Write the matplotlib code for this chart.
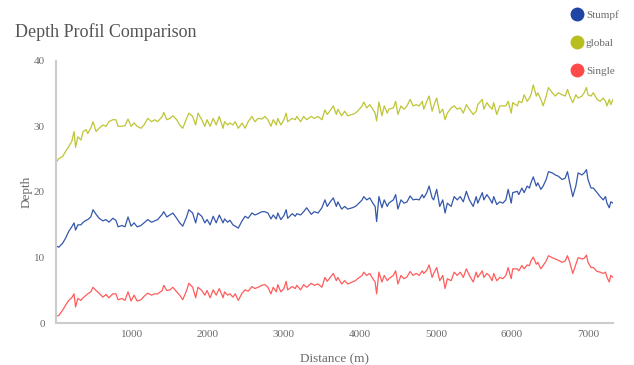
import matplotlib
matplotlib.use('Agg')
import matplotlib.pyplot as plt
from matplotlib.lines import Line2D

# Along-track distance (m) shared by the three depth profiles
distance_m = [
    0, 40, 90, 130, 170, 210, 240, 260, 290, 330, 360, 400, 420, 460, 490, 530, 570, 620, 660, 700,
    750, 790, 820, 870, 910, 950, 990, 1030, 1070, 1120, 1160, 1210, 1260, 1300, 1340, 1400, 1420,
    1460, 1500, 1540, 1590, 1630, 1670, 1720, 1750, 1800,
    1840, 1870, 1920, 1960, 1990, 2030, 2070, 2110, 2150, 2200, 2220, 2260, 2290, 2330, 2360, 2400,
    2450, 2490, 2530, 2580, 2620, 2660, 2710, 2750, 2790, 2830, 2860, 2900, 2920, 2960, 3000, 3030,
    3050, 3110, 3150, 3170, 3220, 3260, 3300, 3360, 3400, 3450, 3500, 3540, 3570, 3610,
    3650, 3690, 3710, 3760, 3800, 3840, 3900, 3940, 3970, 4030, 4050, 4090, 4130, 4170, 4200, 4220,
    4250, 4290, 4320, 4360, 4380, 4440, 4470, 4500, 4540, 4580, 4620, 4660, 4700, 4740, 4780, 4820,
    4840, 4880, 4910, 4950, 4970, 5010, 5050, 5090, 5120, 5150, 5200, 5240, 5280, 5320, 5360, 5400,
    5440, 5490,
    5530, 5550, 5610, 5630, 5670, 5700, 5740, 5760, 5800, 5840, 5880, 5920, 5950, 5990, 6010, 6070,
    6090, 6130, 6160, 6200, 6230, 6250, 6280, 6320, 6340, 6380, 6410, 6450, 6480, 6530, 6570, 6610,
    6660, 6700, 6730, 6760, 6800, 6840, 6870, 6920, 6950, 6980, 7000, 7040, 7070, 7120, 7160, 7200,
    7230, 7250, 7280, 7300, 7330,
]

depth_stumpf = [
    11.8, 11.6, 12.2, 13.0, 14.0, 14.7, 15.3, 14.2, 15.0, 15.0, 15.4, 15.7, 15.8, 16.2, 17.3, 16.6,
    16.0, 15.6, 15.8, 15.4, 16.0, 15.7, 14.7, 14.9, 14.7, 16.2, 14.8, 15.3, 14.7, 14.9, 15.3, 15.8,
    15.4, 15.6, 15.8, 16.6, 17.0, 16.2, 16.5, 16.8, 16.0, 15.3, 14.8, 16.2, 17.3, 16.8,
    15.3, 16.8, 16.3, 15.3, 15.8, 15.0, 16.3, 15.3, 16.5, 15.3, 15.9, 15.4, 15.7, 15.0, 14.8, 14.5,
    15.6, 16.3, 16.0, 16.8, 16.5, 16.7, 17.0, 17.0, 16.8, 15.9, 16.5, 15.9, 16.8, 15.8, 16.4, 17.3,
    16.0, 16.7, 16.3, 16.7, 16.5, 17.0, 17.6, 16.6, 17.0, 16.8, 17.6, 18.8, 17.8, 18.5,
    19.1, 17.8, 18.5, 17.4, 17.8, 17.4, 17.6, 17.8, 18.1, 18.8, 19.3, 18.8, 19.1, 18.3, 17.8, 15.5,
    19.3, 17.6, 18.8, 17.8, 18.3, 18.8, 19.6, 17.4, 18.8, 18.3, 18.5, 19.4, 18.8, 18.9, 18.8, 19.6,
    19.1, 19.9, 20.9, 19.1, 18.8, 20.4, 17.8, 18.8, 16.8, 18.3, 17.8, 19.3, 18.8, 19.3, 18.5, 20.1,
    18.8, 17.8,
    19.3, 18.3, 19.9, 18.8, 19.6, 19.1, 18.3, 19.3, 18.1, 18.5, 18.3, 18.8, 20.4, 18.3, 19.9, 20.1,
    19.6, 20.6, 19.9, 20.9, 20.6, 21.4, 22.3, 20.9, 21.4, 20.4, 20.9, 21.9, 23.1, 22.9, 22.6, 22.4,
    21.9, 22.1, 23.1, 21.4, 19.3, 20.9, 22.9, 22.6, 22.9, 23.4, 21.9, 20.6, 20.6, 19.9, 19.3, 18.8,
    19.3, 18.3, 17.6, 18.5, 18.3,
]

depth_global = [
    24.4, 25.1, 25.4, 26.2, 26.9, 27.7, 29.2, 26.8, 28.4, 27.9, 29.2, 29.5, 28.9, 29.7, 30.7, 29.2,
    29.7, 30.2, 30.0, 30.7, 31.0, 31.0, 30.0, 30.0, 30.1, 31.1, 30.0, 30.5, 30.0, 29.7, 30.2, 31.2,
    30.7, 31.0, 30.7, 31.5, 32.1, 31.0, 31.2, 31.6, 31.0, 30.2, 29.7, 31.2, 32.0, 31.5,
    30.2, 32.0, 31.0, 30.0, 31.0, 30.0, 31.2, 30.2, 31.5, 29.7, 30.7, 30.2, 30.5, 30.2, 30.7, 29.7,
    30.5, 29.7, 30.7, 31.5, 30.7, 31.2, 31.1, 31.5, 31.0, 30.0, 31.0, 30.2, 31.2, 30.2, 31.0, 32.0,
    30.7, 31.2, 31.0, 31.5, 30.7, 31.5, 31.0, 31.5, 31.2, 31.5, 31.0, 32.5, 31.8, 32.4,
    33.1, 31.8, 32.6, 31.6, 32.3, 31.6, 31.8, 32.0, 32.3, 33.1, 33.7, 32.8, 33.3, 32.6, 32.0, 30.8,
    33.7, 31.6, 33.1, 32.0, 32.6, 32.8, 33.8, 31.8, 33.1, 32.6, 33.1, 34.1, 33.1, 33.3, 33.1, 33.8,
    32.6, 33.8, 34.6, 32.3, 33.1, 34.3, 32.0, 32.6, 31.0, 32.0, 32.8, 33.1, 32.6, 32.8, 32.0, 33.3,
    32.6, 31.8,
    32.3, 33.3, 34.1, 32.6, 33.6, 33.1, 32.6, 33.6, 31.8, 33.1, 33.1, 33.1, 33.8, 32.0, 33.6, 33.1,
    33.8, 33.6, 34.8, 33.8, 34.3, 34.8, 36.3, 34.6, 35.1, 34.1, 33.1, 34.6, 35.9, 35.1, 34.6, 35.1,
    34.8, 34.6, 35.6, 34.6, 33.6, 34.8, 34.3, 34.6, 35.1, 35.9, 34.8, 34.6, 35.1, 34.1, 33.8, 34.3,
    33.8, 33.1, 34.1, 33.3, 34.1,
]

depth_single = [
    1.1, 1.2, 2.0, 2.8, 3.5, 3.9, 4.5, 2.5, 3.8, 3.5, 3.9, 4.3, 4.5, 4.8, 5.5, 5.0,
    4.6, 4.0, 4.4, 3.9, 4.5, 4.5, 3.6, 3.8, 3.5, 4.8, 3.4, 4.3, 3.4, 3.6, 4.1, 4.6,
    4.3, 4.5, 4.5, 5.0, 5.8, 5.0, 5.1, 5.5, 4.8, 4.3, 3.6, 5.0, 6.1, 5.5,
    3.9, 5.5, 5.0, 4.3, 5.0, 3.9, 5.1, 4.3, 5.3, 3.9, 4.8, 4.3, 4.5, 4.0, 4.5, 3.5,
    4.6, 5.1, 4.9, 5.6, 5.3, 5.5, 5.8, 5.9, 5.5, 4.5, 5.5, 4.8, 5.9, 4.8, 5.3, 6.4,
    5.1, 5.6, 5.3, 5.8, 5.1, 5.9, 5.5, 6.1, 5.8, 6.0, 5.5, 7.0, 6.4, 7.0,
    7.6, 6.5, 7.0, 6.0, 6.5, 6.0, 6.3, 6.5, 6.8, 7.3, 7.8, 7.3, 7.6, 6.8, 6.3, 4.5,
    7.8, 6.3, 7.3, 6.5, 6.8, 7.3, 8.0, 6.0, 7.3, 6.8, 7.1, 7.9, 7.3, 7.6, 7.3, 8.0,
    7.6, 8.1, 8.9, 7.0, 7.6, 8.5, 6.5, 7.3, 5.3, 6.8, 6.5, 7.8, 7.3, 7.8, 7.0, 8.3,
    7.3, 6.3,
    7.8, 7.0, 8.0, 7.0, 7.6, 7.3, 6.5, 7.6, 6.5, 7.0, 6.8, 7.3, 8.5, 6.8, 8.3, 8.3,
    8.0, 8.8, 8.3, 8.9, 8.8, 9.5, 10.1, 9.0, 9.3, 8.3, 8.8, 9.5, 10.3, 10.0, 9.8, 9.6,
    9.3, 9.5, 10.3, 9.3, 7.6, 9.0, 10.0, 9.8, 9.9, 10.4, 9.3, 8.5, 8.5, 7.9, 7.8, 7.6,
    7.8, 7.0, 6.3, 7.3, 7.0,
]

series_names = ['Stumpf', 'global', 'Single']
series_colors = ['#1f45a3', '#b7bf1e', '#ff4a4a']
x_ticks = [1000, 2000, 3000, 4000, 5000, 6000, 7000]
y_ticks = [0, 10, 20, 30, 40]

plt.rcParams['font.family'] = ['Liberation Serif', 'DejaVu Serif']
TXT = '#6b6b6b'

fig = plt.figure(figsize=(6.34, 3.65), dpi=100)
ax = fig.add_axes([0.088, 0.114, 0.879, 0.72])

for name, vals, col in zip(series_names, [depth_stumpf, depth_global, depth_single], series_colors):
    ax.plot(distance_m, vals, color=col, lw=0.9, alpha=0.9, label=name)

ax.set_xlim(0, 7330)
ax.set_ylim(0, 40)
ax.set_xticks(x_ticks)
ax.set_yticks(y_ticks)
ax.tick_params(length=0, labelsize=8, labelcolor=TXT)
ax.tick_params(axis='y', pad=8)
ax.tick_params(axis='x', pad=5)

for side in ['top', 'right']:
    ax.spines[side].set_visible(False)
for side in ['left', 'bottom']:
    ax.spines[side].set_color('#cccccc')
    ax.spines[side].set_linewidth(1.5)

ax.set_xlabel('Distance (m)', fontsize=9.5, color=TXT, labelpad=10)
ax.set_ylabel('Depth', fontsize=9.5, color=TXT, labelpad=1)

fig.text(0.024, 0.912, 'Depth Profil Comparison', fontsize=13, color='#555555',
         ha='left', va='center')

# legend sits above the plot area, top right corner of the figure
handles = [Line2D([], [], ls='none', marker='o', markersize=9, color=c) for c in series_colors]
fig.legend(handles, series_names, loc='upper left', bbox_to_anchor=(0.889, 0.99),
           frameon=False, fontsize=8, labelcolor=TXT, handletextpad=0.2,
           labelspacing=1.65, borderaxespad=0.2, handlelength=1.2)

fig.savefig('out.png', dpi=100)
